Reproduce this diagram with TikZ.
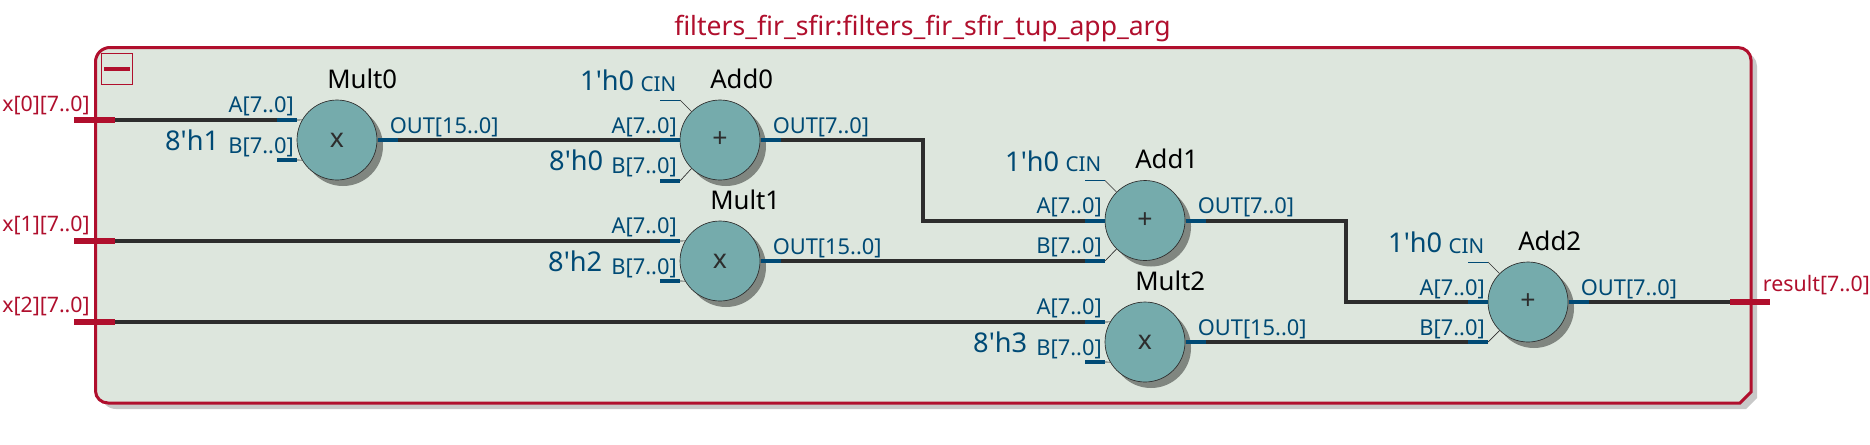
\documentclass[tikz,border=0pt]{standalone}
\usepackage{fontspec}
\setmainfont{Noto Sans}
\newfontfamily\qplain{Noto Sans}
\definecolor{qred}{HTML}{B00F2D}
\definecolor{qblue}{HTML}{004A75}
\definecolor{qfill}{HTML}{DDE6DD}
\definecolor{qcirc}{HTML}{75ABAC}
\definecolor{qshad}{HTML}{808680}
\definecolor{qbshad}{HTML}{C8C8C8}
\definecolor{qwire}{HTML}{2D2D2D}
\tikzset{
 opcirc/.style={circle,draw=qwire,line width=0.5pt,fill=qcirc,minimum size=60pt,inner sep=0pt,text=qwire,font=\fontsize{20}{20}\selectfont},
 opshad/.style={circle,fill=qshad,minimum size=60pt,inner sep=0pt},
 wire/.style={qwire,line width=3pt},
 pinw/.style={qblue,line width=3pt},
 thinw/.style={qwire,line width=0.5pt},
 cinw/.style={qblue,line width=0.6pt},
 portw/.style={qred,line width=4.2pt},
 pinl/.style={text=qblue,font=\fontsize{16.4}{16.4}\selectfont,inner sep=0pt},
 cinl/.style={text=qblue,font=\fontsize{15.4}{15.4}\selectfont,inner sep=0pt},
 constl/.style={text=qblue,font=\qplain\fontsize{20.4}{20.4}\selectfont,inner sep=0pt},
 namel/.style={text=black,font=\fontsize{19.3}{19.3}\selectfont,inner sep=0pt,anchor=base west},
 portl/.style={text=qred,font=\fontsize{16}{16}\selectfont,inner sep=0pt},
}
\begin{document}
\begin{tikzpicture}[x=0.75pt,y=-0.75pt]
\useasboundingbox (0,0) rectangle (1870,444);
% block
\fill[qbshad] (101,53) -- (1744,53) to[out=0,in=90] (1757,66) -- (1757,398) -- (1746,409) -- (116,409) to[out=180,in=-90] (101,394) -- cycle;
\node[inner sep=0pt,font=\fontsize{19.9}{19.9}\selectfont,text=qred,anchor=base] (title) at (922.5,35) {filters\_fir\_sfir:filters\_fir\_sfir\_tup\_app\_arg};
\filldraw[fill=qfill,draw=qred,line width=2.25pt] (110,47.5) -- (1738,47.5) to[out=0,in=90] (1751,60) -- (1751,392) -- (1740,403) -- (108,403) to[out=180,in=-90] (95.5,391) -- (95.5,62) to[out=90,in=180] cycle;
\node[draw=qred,line width=0.6pt,minimum size=23.5pt,inner sep=0pt] (coll) at (117,69) {};
\draw[qred,line width=3pt] ([xshift=-9.5pt]coll.center) -- ([xshift=9.5pt]coll.center);
% multipliers
\foreach \n/\x/\y/\c in {Mult0/337/140/1,Mult1/720/261/2,Mult2/1145/342/3}{
 \node[opshad] at (\x+6,\y+6) {};
 \node[opcirc] (\n) at (\x,\y) {x};
 \node[namel] (\n name) at (\x-10,\y-52) {\n};
 \coordinate (\n Ain) at (\x-60,\y-20);
 \coordinate (\n Aend) at (\x-40,\y-20);
 \coordinate (\n Bin) at (\x-60,\y+20);
 \coordinate (\n Bend) at (\x-40,\y+20);
 \coordinate (\n Oin) at (\x+41,\y);
 \coordinate (\n Oout) at (\x+61,\y);
 \draw[pinw] (\n Ain) -- (\n Aend);
 \draw[pinw] (\n Bin) -- (\n Bend);
 \draw[thinw] (\n Aend) -- (\n.150);
 \draw[thinw] (\n Bend) -- (\n.210);
 \node[pinl,anchor=base east] (\n Al) at (\x-43,\y-27.5) {A[7..0]};
 \node[pinl,anchor=base east] (\n Bl) at (\x-43,\y+13) {B[7..0]};
 \node[pinl,anchor=base west] (\n Ol) at (\x+52.5,\y-7) {OUT[15..0]};
 \node[constl,anchor=base east] (\n const) at (\x-117.5,\y+10.7) {8'h\c};
}
% adders
\foreach \n/\x/\y/\by in {Add0/720/140/181,Add1/1145/220.5/261,Add2/1528/302/342}{
 \node[opshad] at (\x+6,\y+6) {};
 \node[opcirc] (\n) at (\x,\y) {+};
 \node[namel] (\n name) at (\x-10,\y-52) {\n};
 \coordinate (\n Ain) at (\x-60,\y);
 \coordinate (\n Aend) at (\x-40,\y);
 \coordinate (\n Bin) at (\x-60,\by);
 \coordinate (\n Bend) at (\x-40,\by);
 \coordinate (\n Cin) at (\x-60,\y-40);
 \coordinate (\n Cend) at (\x-40,\y-40);
 \coordinate (\n Oin) at (\x+41,\y);
 \coordinate (\n Oout) at (\x+61,\y);
 \draw[pinw] (\n Ain) -- (\n Aend);
 \draw[pinw] (\n Bin) -- (\n Bend);
 \draw[thinw] (\n Bend) -- (\n.225);
 \draw[cinw] (\n Cin) -- (\n Cend);
 \draw[thinw] (\n Cend) -- (\n.135);
 \node[pinl,anchor=base east] (\n Al) at (\x-43,\y-7) {A[7..0]};
 \node[pinl,anchor=base east] (\n Bl) at (\x-43,\y+33) {B[7..0]};
 \node[pinl,anchor=base west] (\n Ol) at (\x+52.5,\y-7) {OUT[7..0]};
 \node[cinl,anchor=base east] (\n cin) at (\x-43.5,\y-48.7) {CIN};
 \node[constl,anchor=base east] (\n const) at (\x-85.5,\y-49.3) {1'h0};
}
\node[constl,anchor=base east] (Add0bconst) at (603.5,170.7) {8'h0};
% output pins
\foreach \n in {Mult0,Mult1,Mult2,Add0,Add1,Add2}{
 \draw[pinw] (\n Oin) -- (\n Oout);
}
% ports
\coordinate (p0a) at (74,120); \coordinate (p0b) at (115,120);
\coordinate (p1a) at (74,241); \coordinate (p1b) at (115,241);
\coordinate (p2a) at (74,322); \coordinate (p2b) at (115,322);
\coordinate (roa) at (1730,302); \coordinate (rob) at (1770,302);
% wires
\draw[wire] (p0b) -- (Mult0Ain);
\draw[wire] (p1b) -- (Mult1Ain);
\draw[wire] (p2b) -- (Mult2Ain);
\draw[wire] (Mult0Oout) -- (Add0Ain);
\draw[wire,line join=miter] (Add0Oout) -| (923,220.5) -- (Add1Ain);
\draw[wire] (Mult1Oout) -- (Add1Bin);
\draw[wire,line join=miter] (Add1Oout) -| (1345.5,302) -- (Add2Ain);
\draw[wire] (Mult2Oout) -- (Add2Bin);
\draw[wire] (Add2Oout) -- (roa);
\foreach \p in {p0,p1,p2,ro}{\draw[portw] (\p a) -- (\p b);}
\node[portl,anchor=base west] (x0l) at (2,111) {x[0][7..0]};
\node[portl,anchor=base west] (x1l) at (2,231.7) {x[1][7..0]};
\node[portl,anchor=base west] (x2l) at (2,312.5) {x[2][7..0]};
\node[portl,anchor=base west] (rl) at (1762.7,291.7) {result[7..0]};
\end{tikzpicture}
\end{document}
